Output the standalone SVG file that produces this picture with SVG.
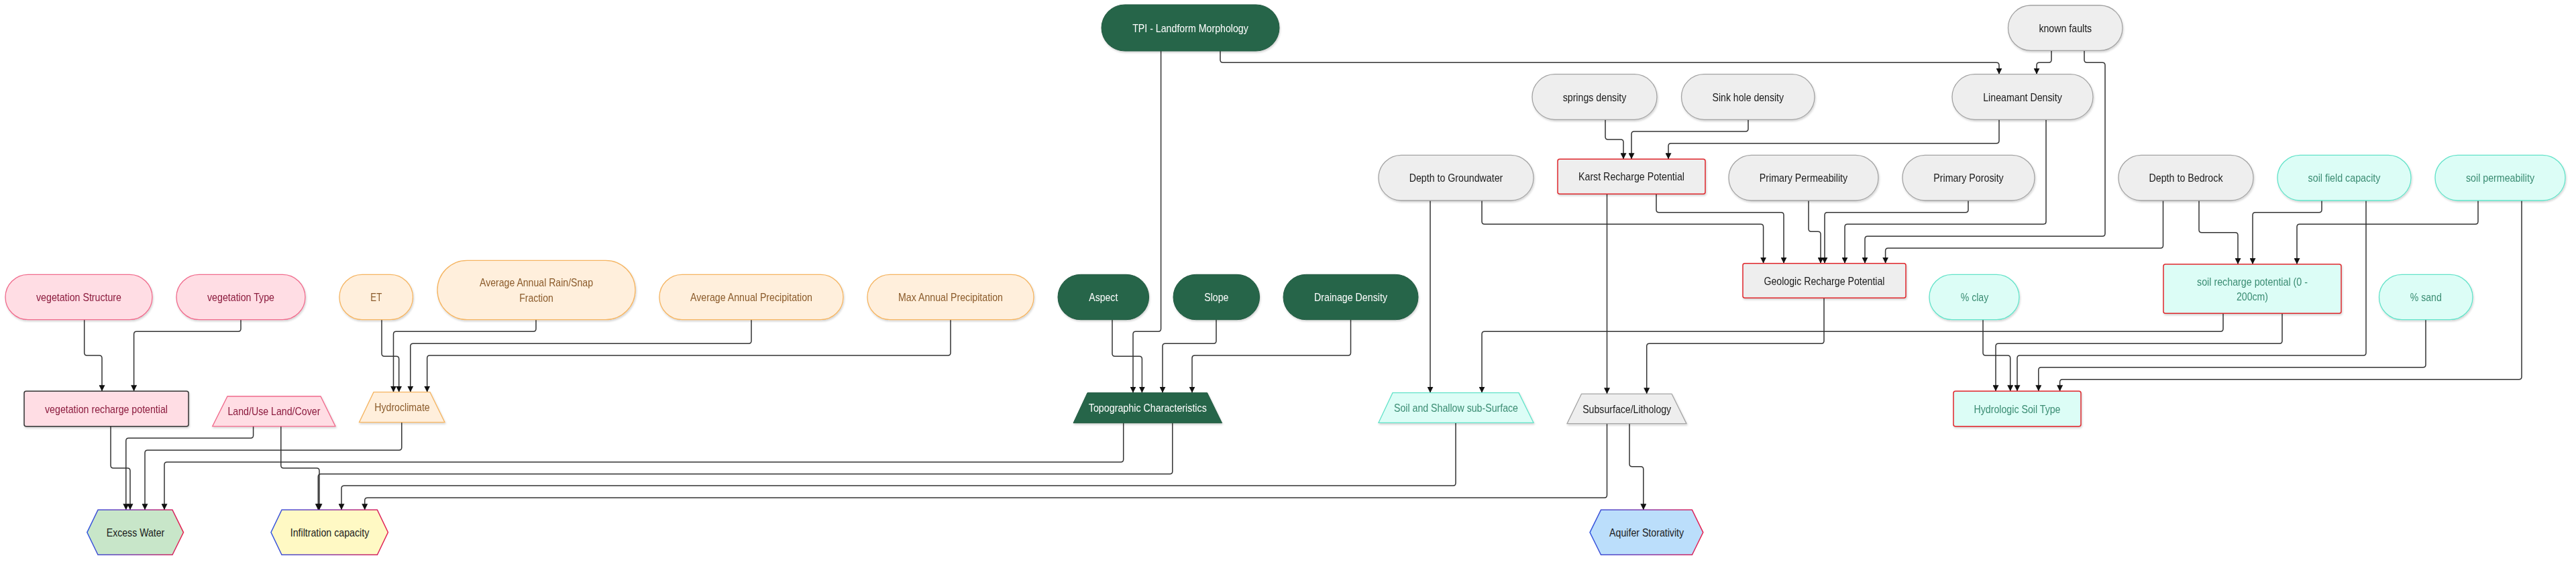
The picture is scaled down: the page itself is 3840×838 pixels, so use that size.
<svg xmlns="http://www.w3.org/2000/svg" width="3840" height="838" viewBox="0 0 3840 838">
<style>
text{font-family:"Liberation Sans Narrow","Arial Narrow","Liberation Sans",Arial,sans-serif;font-size:17px;text-anchor:middle}
.green{fill:#28654a;stroke:#215a41;stroke-width:1}
.gray{fill:#eeeeee;stroke:#a3a3a3;stroke-width:1.3}
.grayred{fill:#eeeeee;stroke:#e0262c;stroke-width:1.5}
.teal{fill:#dcfdf6;stroke:#62e3c9;stroke-width:1.3}
.tealred{fill:#dcfdf6;stroke:#e0262c;stroke-width:1.5}
.pink{fill:#ffdde4;stroke:#f06a8c;stroke-width:1.3}
.pinkdark{fill:#ffdde4;stroke:#333333;stroke-width:1.5}
.orange{fill:#ffefdc;stroke:#f5b460;stroke-width:1.3}
.hex{stroke:url(#hexstroke);stroke-width:1.5}
.tw{fill:#ffffff}
.tk{fill:#1a1a1a}
.tt{fill:#3a8c72}
.tp{fill:#8b1a3d}
.to{fill:#8a5a2a}
.edge{fill:none;stroke:#333333;stroke-width:1.5;marker-end:url(#arrow)}
</style>
<defs>
<marker id="arrow" markerUnits="userSpaceOnUse" markerWidth="9" markerHeight="9" refX="9" refY="4.5" orient="auto">
<path d="M0,0 L9,4.5 L0,9 z" fill="#111111"/>
</marker>
<linearGradient id="hexstroke" x1="0" y1="0" x2="1" y2="0">
<stop offset="0" stop-color="#2f55e0"/>
<stop offset="0.5" stop-color="#8a3aa8"/>
<stop offset="1" stop-color="#e8204f"/>
</linearGradient>
<filter id="sh" x="-10%" y="-20%" width="125%" height="150%">
<feDropShadow dx="1" dy="2" stdDeviation="1.5" flood-color="#000000" flood-opacity="0.18"/>
</filter>
</defs>
<rect x="0" y="0" width="3840" height="838" fill="#ffffff"/>

<g id="connectors">
<path class="edge" d="M125.7 477 V526 Q125.7 530 129.7 530 H148 Q152 530 152 534 V583.3"/>
<path class="edge" d="M359 477 V490.3 Q359 494.3 355 494.3 H203.6 Q199.6 494.3 199.6 498.3 V583.3"/>
<path class="edge" d="M165 635.7 V694 Q165 698 169 698 H190 Q194 698 194 702 V760.3"/>
<path class="edge" d="M377.6 635.7 V649.3 Q377.6 653.3 373.6 653.3 H191.8 Q187.8 653.3 187.8 657.3 V760.3"/>
<path class="edge" d="M418.8 635.7 V694 Q418.8 698 422.8 698 H472 Q476 698 476 702 V760.3"/>
<path class="edge" d="M569 476.7 V527.3 Q569 531.3 573 531.3 H590.7 Q594.7 531.3 594.7 535.3 V584.7"/>
<path class="edge" d="M799 476.7 V490.3 Q799 494.3 795 494.3 H590.5 Q586.5 494.3 586.5 498.3 V584.7"/>
<path class="edge" d="M1120 476.7 V508.3 Q1120 512.3 1116 512.3 H615.8 Q611.8 512.3 611.8 516.3 V584.7"/>
<path class="edge" d="M1417 476.7 V526 Q1417 530 1413 530 H640.7 Q636.7 530 636.7 534 V584.7"/>
<path class="edge" d="M598.8 629.7 V667.3 Q598.8 671.3 594.8 671.3 H220 Q216 671.3 216 675.3 V760.3"/>
<path class="edge" d="M1730.6 76 V490.3 Q1730.6 494.3 1726.6 494.3 H1693 Q1689 494.3 1689 498.3 V585.7"/>
<path class="edge" d="M1658 476.7 V527.3 Q1658 531.3 1662 531.3 H1698.4 Q1702.4 531.3 1702.4 535.3 V585.7"/>
<path class="edge" d="M1813 476.7 V508.3 Q1813 512.3 1809 512.3 H1737 Q1733 512.3 1733 516.3 V585.7"/>
<path class="edge" d="M2013.5 476.7 V526 Q2013.5 530 2009.5 530 H1781 Q1777 530 1777 534 V585.7"/>
<path class="edge" d="M1674.7 630.7 V685 Q1674.7 689 1670.7 689 H249 Q245 689 245 693 V760.3"/>
<path class="edge" d="M1747.8 630.7 V702.7 Q1747.8 706.7 1743.8 706.7 H478.3 Q474.3 706.7 474.3 710.7 V760.3"/>
<path class="edge" d="M1819 76 V89.3 Q1819 93.3 1823 93.3 H2976 Q2980 93.3 2980 97.3 V110.7"/>
<path class="edge" d="M3058 75.3 V89.3 Q3058 93.3 3054 93.3 H3040 Q3036 93.3 3036 97.3 V110.7"/>
<path class="edge" d="M3107 75.3 V89.3 Q3107 93.3 3111 93.3 H3134 Q3138 93.3 3138 97.3 V348.3 Q3138 352.3 3134 352.3 H2784 Q2780 352.3 2780 356.3 V392.7"/>
<path class="edge" d="M2393 178.3 V204 Q2393 208 2397 208 H2416 Q2420 208 2420 212 V237.3"/>
<path class="edge" d="M2606 178.3 V192 Q2606 196 2602 196 H2436 Q2432 196 2432 200 V237.3"/>
<path class="edge" d="M2980 178.3 V209.7 Q2980 213.7 2976 213.7 H2491 Q2487 213.7 2487 217.7 V237.3"/>
<path class="edge" d="M2209 299 V330.3 Q2209 334.3 2213 334.3 H2624.6 Q2628.6 334.3 2628.6 338.3 V392.7"/>
<path class="edge" d="M2469 289.3 V312.7 Q2469 316.7 2473 316.7 H2655 Q2659 316.7 2659 320.7 V392.7"/>
<path class="edge" d="M2696 299 V341.3 Q2696 345.3 2700 345.3 H2710 Q2714 345.3 2714 349.3 V392.7"/>
<path class="edge" d="M2934 299 V312.7 Q2934 316.7 2930 316.7 H2724 Q2720 316.7 2720 320.7 V392.7"/>
<path class="edge" d="M3050 178.3 V330.3 Q3050 334.3 3046 334.3 H2754 Q2750 334.3 2750 338.3 V392.7"/>
<path class="edge" d="M3224.5 299 V366 Q3224.5 370 3220.5 370 H2814.6 Q2810.6 370 2810.6 374 V392.7"/>
<path class="edge" d="M3278 299 V342.7 Q3278 346.7 3282 346.7 H3332 Q3336 346.7 3336 350.7 V394"/>
<path class="edge" d="M3461 299 V312.7 Q3461 316.7 3457 316.7 H3362 Q3358 316.7 3358 320.7 V394"/>
<path class="edge" d="M3694 299 V330.3 Q3694 334.3 3690 334.3 H3428 Q3424 334.3 3424 338.3 V394"/>
<path class="edge" d="M2132 299 V585.7"/>
<path class="edge" d="M3314 467.3 V490.3 Q3314 494.3 3310 494.3 H2213 Q2209 494.3 2209 498.3 V585.7"/>
<path class="edge" d="M2395.5 289.3 V587.3"/>
<path class="edge" d="M2719 444.3 V508.3 Q2719 512.3 2715 512.3 H2458.7 Q2454.7 512.3 2454.7 516.3 V587.3"/>
<path class="edge" d="M3402 467.3 V508.3 Q3402 512.3 3398 512.3 H2979 Q2975 512.3 2975 516.3 V583.3"/>
<path class="edge" d="M2956 476.7 V526 Q2956 530 2960 530 H2992.7 Q2996.7 530 2996.7 534 V583.3"/>
<path class="edge" d="M3527 299 V526 Q3527 530 3523 530 H3011 Q3007 530 3007 534 V583.3"/>
<path class="edge" d="M3616 476.7 V543.7 Q3616 547.7 3612 547.7 H3042.8 Q3038.8 547.7 3038.8 551.7 V583.3"/>
<path class="edge" d="M3759 299 V561.7 Q3759 565.7 3755 565.7 H3074.6 Q3070.6 565.7 3070.6 569.7 V583.3"/>
<path class="edge" d="M2170 630.3 V720.3 Q2170 724.3 2166 724.3 H513 Q509 724.3 509 728.3 V760.3"/>
<path class="edge" d="M2395.5 631.7 V738.3 Q2395.5 742.3 2391.5 742.3 H547.7 Q543.7 742.3 543.7 746.3 V760.3"/>
<path class="edge" d="M2429 631.7 V691.7 Q2429 695.7 2433 695.7 H2445.8 Q2449.8 695.7 2449.8 699.7 V760.3"/>
</g>

<g id="tpi" filter="url(#sh)"><rect class="green" x="1642" y="7" width="265" height="69" rx="34.5"/><text class="tw" x="1774.5" y="47.5" textLength="172.7" lengthAdjust="spacingAndGlyphs">TPI - Landform Morphology</text></g>
<g id="known-faults" filter="url(#sh)"><rect class="gray" x="2993.5" y="8" width="170.5" height="67.3" rx="33.6"/><text class="tk" x="3078.8" y="47.7" textLength="78.8" lengthAdjust="spacingAndGlyphs">known faults</text></g>
<g id="springs-density" filter="url(#sh)"><rect class="gray" x="2284" y="110.7" width="186" height="67.6" rx="33.8"/><text class="tk" x="2377" y="150.5" textLength="94.7" lengthAdjust="spacingAndGlyphs">springs density</text></g>
<g id="sink-hole-density" filter="url(#sh)"><rect class="gray" x="2506.5" y="110.7" width="198.5" height="67.6" rx="33.8"/><text class="tk" x="2605.8" y="150.5" textLength="106.6" lengthAdjust="spacingAndGlyphs">Sink hole density</text></g>
<g id="lineamant-density" filter="url(#sh)"><rect class="gray" x="2910" y="110.7" width="210" height="67.6" rx="33.8"/><text class="tk" x="3015" y="150.5" textLength="117.6" lengthAdjust="spacingAndGlyphs">Lineamant Density</text></g>
<g id="depth-to-groundwater" filter="url(#sh)"><rect class="gray" x="2055" y="231.3" width="231" height="67.7" rx="33.8"/><text class="tk" x="2170.5" y="271" textLength="139.6" lengthAdjust="spacingAndGlyphs">Depth to Groundwater</text></g>
<g id="karst-recharge" filter="url(#sh)"><rect class="grayred" x="2322" y="237.3" width="220" height="52" rx="3"/><text class="tk" x="2432" y="269.3" textLength="158" lengthAdjust="spacingAndGlyphs">Karst Recharge Potential</text></g>
<g id="primary-permeability" filter="url(#sh)"><rect class="gray" x="2577" y="231.3" width="223" height="67.7" rx="33.8"/><text class="tk" x="2688.5" y="271" textLength="131.4" lengthAdjust="spacingAndGlyphs">Primary Permeability</text></g>
<g id="primary-porosity" filter="url(#sh)"><rect class="gray" x="2836" y="231.3" width="197" height="67.7" rx="33.8"/><text class="tk" x="2934.5" y="271" textLength="104.5" lengthAdjust="spacingAndGlyphs">Primary Porosity</text></g>
<g id="depth-to-bedrock" filter="url(#sh)"><rect class="gray" x="3158" y="231.3" width="201" height="67.7" rx="33.8"/><text class="tk" x="3258.5" y="271" textLength="110" lengthAdjust="spacingAndGlyphs">Depth to Bedrock</text></g>
<g id="soil-field-capacity" filter="url(#sh)"><rect class="teal" x="3395" y="231.3" width="199" height="67.7" rx="33.8"/><text class="tt" x="3494.5" y="271" textLength="107.8" lengthAdjust="spacingAndGlyphs">soil field capacity</text></g>
<g id="soil-permeability" filter="url(#sh)"><rect class="teal" x="3630" y="231.3" width="194" height="67.7" rx="33.8"/><text class="tt" x="3727" y="271" textLength="102" lengthAdjust="spacingAndGlyphs">soil permeability</text></g>
<g id="geologic-recharge" filter="url(#sh)"><rect class="grayred" x="2598" y="392.7" width="243" height="51.6" rx="3"/><text class="tk" x="2719.5" y="424.5" textLength="180" lengthAdjust="spacingAndGlyphs">Geologic Recharge Potential</text></g>
<g id="soil-recharge" filter="url(#sh)"><rect class="tealred" x="3225" y="394" width="265" height="73.3" rx="3"/><text class="tt" x="3357.5" y="425.5" textLength="165" lengthAdjust="spacingAndGlyphs">soil recharge potential (0 -</text><text class="tt" x="3357.5" y="448" textLength="47" lengthAdjust="spacingAndGlyphs">200cm)</text></g>
<g id="vegetation-structure" filter="url(#sh)"><rect class="pink" x="8" y="409.3" width="219" height="67.4" rx="33.7"/><text class="tp" x="117.5" y="449" textLength="127" lengthAdjust="spacingAndGlyphs">vegetation Structure</text></g>
<g id="vegetation-type" filter="url(#sh)"><rect class="pink" x="263" y="409.3" width="192" height="67.4" rx="33.7"/><text class="tp" x="359" y="449" textLength="100" lengthAdjust="spacingAndGlyphs">vegetation Type</text></g>
<g id="et" filter="url(#sh)"><rect class="orange" x="506" y="409.3" width="109.5" height="67.4" rx="33.7"/><text class="to" x="560.8" y="449" textLength="17" lengthAdjust="spacingAndGlyphs">ET</text></g>
<g id="rain-snap" filter="url(#sh)"><rect class="orange" x="652" y="388.3" width="295" height="88.4" rx="44.2"/><text class="to" x="799.5" y="427" textLength="169" lengthAdjust="spacingAndGlyphs">Average Annual Rain/Snap</text><text class="to" x="799.5" y="450" textLength="50.6" lengthAdjust="spacingAndGlyphs">Fraction</text></g>
<g id="avg-annual-precip" filter="url(#sh)"><rect class="orange" x="983" y="409.3" width="274" height="67.4" rx="33.7"/><text class="to" x="1120" y="449" textLength="182" lengthAdjust="spacingAndGlyphs">Average Annual Precipitation</text></g>
<g id="max-annual-precip" filter="url(#sh)"><rect class="orange" x="1293" y="409.3" width="248" height="67.4" rx="33.7"/><text class="to" x="1417" y="449" textLength="156" lengthAdjust="spacingAndGlyphs">Max Annual Precipitation</text></g>
<g id="aspect" filter="url(#sh)"><rect class="green" x="1577" y="409.3" width="135.6" height="67.4" rx="33.7"/><text class="tw" x="1644.8" y="449" textLength="43" lengthAdjust="spacingAndGlyphs">Aspect</text></g>
<g id="slope" filter="url(#sh)"><rect class="green" x="1749" y="409.3" width="128.6" height="67.4" rx="33.7"/><text class="tw" x="1813.3" y="449" textLength="36" lengthAdjust="spacingAndGlyphs">Slope</text></g>
<g id="drainage-density" filter="url(#sh)"><rect class="green" x="1913" y="409.3" width="201" height="67.4" rx="33.7"/><text class="tw" x="2013.5" y="449" textLength="109" lengthAdjust="spacingAndGlyphs">Drainage Density</text></g>
<g id="pct-clay" filter="url(#sh)"><rect class="teal" x="2876" y="409.3" width="134" height="67.4" rx="33.7"/><text class="tt" x="2943.5" y="449" textLength="41.6" lengthAdjust="spacingAndGlyphs">% clay</text></g>
<g id="pct-sand" filter="url(#sh)"><rect class="teal" x="3546.5" y="409.3" width="139.5" height="67.4" rx="33.7"/><text class="tt" x="3616.3" y="449" textLength="47" lengthAdjust="spacingAndGlyphs">% sand</text></g>
<g id="hydrologic-soil-type" filter="url(#sh)"><rect class="tealred" x="2912" y="583.3" width="190" height="52.4" rx="3"/><text class="tt" x="3007" y="615.5" textLength="129" lengthAdjust="spacingAndGlyphs">Hydrologic Soil Type</text></g>
<g id="vegetation-recharge" filter="url(#sh)"><rect class="pinkdark" x="36" y="583.3" width="245" height="52.4" rx="3"/><text class="tp" x="158.5" y="615.5" textLength="183" lengthAdjust="spacingAndGlyphs">vegetation recharge potential</text></g>
<g id="land-use" filter="url(#sh)"><polygon class="pink" points="339,591 478,591 500,635.7 316.7,635.7"/><text class="tp" x="408.4" y="619.3" textLength="138" lengthAdjust="spacingAndGlyphs">Land/Use Land/Cover</text></g>
<g id="hydroclimate" filter="url(#sh)"><polygon class="orange" points="557,584.7 641,584.7 663,629.7 535.5,629.7"/><text class="to" x="599.5" y="613.2" textLength="82.3" lengthAdjust="spacingAndGlyphs">Hydroclimate</text></g>
<g id="topographic" filter="url(#sh)"><polygon class="green" points="1621,585.7 1799.6,585.7 1821.6,630.7 1600,630.7"/><text class="tw" x="1710.8" y="614.2" textLength="176" lengthAdjust="spacingAndGlyphs">Topographic Characteristics</text></g>
<g id="soil-shallow" filter="url(#sh)"><polygon class="teal" points="2076,585.7 2264,585.7 2286,630.3 2055,630.3"/><text class="tt" x="2170.5" y="614" textLength="185" lengthAdjust="spacingAndGlyphs">Soil and Shallow sub-Surface</text></g>
<g id="subsurface" filter="url(#sh)"><polygon class="gray" points="2357.5,587.3 2492,587.3 2514,631.7 2336,631.7"/><text class="tk" x="2425.2" y="615.5" textLength="132" lengthAdjust="spacingAndGlyphs">Subsurface/Lithology</text></g>
<g id="excess-water"><polygon class="hex" fill="#c8e6c9" points="129.8,793.8 146,760.3 257,760.3 273.5,793.8 257,827.3 146,827.3"/><text class="tk" x="202" y="799.8" textLength="86.5" lengthAdjust="spacingAndGlyphs">Excess Water</text></g>
<g id="infiltration-capacity"><polygon class="hex" fill="#fff9c4" points="404,793.8 420,760.3 562.4,760.3 578.4,793.8 562.4,827.3 420,827.3"/><text class="tk" x="491.5" y="799.8" textLength="117.6" lengthAdjust="spacingAndGlyphs">Infiltration capacity</text></g>
<g id="aquifer-storativity"><polygon class="hex" fill="#bbdefb" points="2370,793.8 2386.5,760.3 2522.4,760.3 2538.8,793.8 2522.4,827.3 2386.5,827.3"/><text class="tk" x="2454.6" y="799.8" textLength="111" lengthAdjust="spacingAndGlyphs">Aquifer Storativity</text></g>
</svg>
